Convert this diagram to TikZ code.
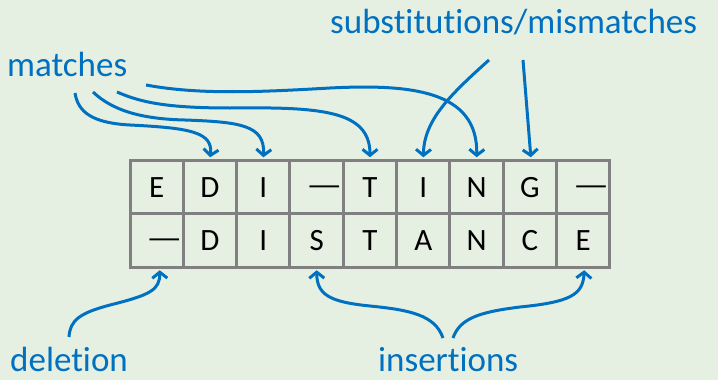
\documentclass[tikz,border=0pt]{standalone}
\usepackage{fontspec}
\setmainfont{Carlito}[Ligatures=NoCommon]
\usetikzlibrary{arrows.meta}
\definecolor{bg}{RGB}{229,240,227}
\definecolor{ablue}{RGB}{0,112,192}
\definecolor{cgray}{RGB}{128,128,128}
\begin{document}
\begin{tikzpicture}[x=1pt,y=-1pt,
  cell/.style={draw=cgray, line width=3pt, minimum width=53.33pt, minimum height=53.5pt, inner sep=0pt,
    font=\fontsize{31}{36}\selectfont, text=black, text height=20pt, text depth=0pt},
  dashc/.style={inner sep=0pt, font=\fontsize{31}{36}\selectfont, text=black, anchor=base east},
  lbl/.style={text=ablue, font=\fontsize{35}{42}\selectfont, inner sep=0pt, anchor=base west},
  conn/.style={draw=ablue, line width=3pt, -{Straight Barb[length=6pt,width=15pt]}, shorten >=1.5pt}]
\useasboundingbox (0,0) rectangle (718,380);
\fill[bg] (0,0) rectangle (718,380);
% cells
\foreach \l [count=\i] in {E,D,I,{},T,I,N,G,{}}
  \node[cell] (t\i) at ({130+53.33*(\i-0.5)},187) {\l};
\foreach \l [count=\i] in {{},D,I,S,T,A,N,C,E}
  \node[cell] (b\i) at ({130+53.33*(\i-0.5)},240.5) {\l};
% dashes
\node[dashc] (d4) at ([xshift=-2pt]t4.east |- 0,195) {\scalebox{1.3}[1]{—}};
\node[dashc] (d9) at ([xshift=-2pt]t9.east |- 0,195) {\scalebox{1.3}[1]{—}};
\node[dashc] (e1) at ([xshift=-2pt]b1.east |- 0,248.5) {\scalebox{1.3}[1]{—}};
% labels
\node[lbl] (match) at (7,76) {matches};
\node[lbl] (subst) at (330,33) {substitutions/mismatches};
\node[lbl] (del) at (10,371) {deletion};
\node[lbl] (ins) at (378,371) {insertions};
% start points
\coordinate (m1) at (75,93);
\coordinate (m2) at (93,92);
\coordinate (m3) at (117,92);
\coordinate (m4) at (146,85);
\coordinate (s1) at (489,60);
\coordinate (s2) at (523,60);
\coordinate (dl) at (69,337);
\coordinate (i1) at (443,338);
\coordinate (i2) at (453,338);
% connectors
\draw[conn] (m1) .. controls (78,112) and (92,123) .. (130,125) .. controls (190,128) and (213,132) .. (t2.north);
\draw[conn] (m2) .. controls (112,110) and (140,119) .. (185,120) .. controls (240,122) and (265,125) .. (t3.north);
\draw[conn] (m3) .. controls (140,102) and (165,108) .. (230,108) .. controls (320,107) and (370,110) .. (t5.north);
\draw[conn] (m4) .. controls (200,95) and (260,92) .. (330,88) .. controls (410,84) and (478,90) .. (t7.north);
\draw[conn] (s1) .. controls (450,95) and (424,120) .. (t6.north);
\draw[conn] (s2) -- ([xshift=1pt]t8.north);
\draw[conn] (dl) .. controls (70,320) and (80,313) .. (110,305) .. controls (150,295) and (160,290) .. ([xshift=3pt]b1.south);
\draw[conn] (i1) .. controls (435,315) and (410,310) .. (370,306) .. controls (330,302) and (317,295) .. (b4.south);
\draw[conn] (i2) .. controls (460,318) and (480,312) .. (520,307) .. controls (570,302) and (583,295) .. ([xshift=1pt]b9.south);
\end{tikzpicture}
\end{document}
